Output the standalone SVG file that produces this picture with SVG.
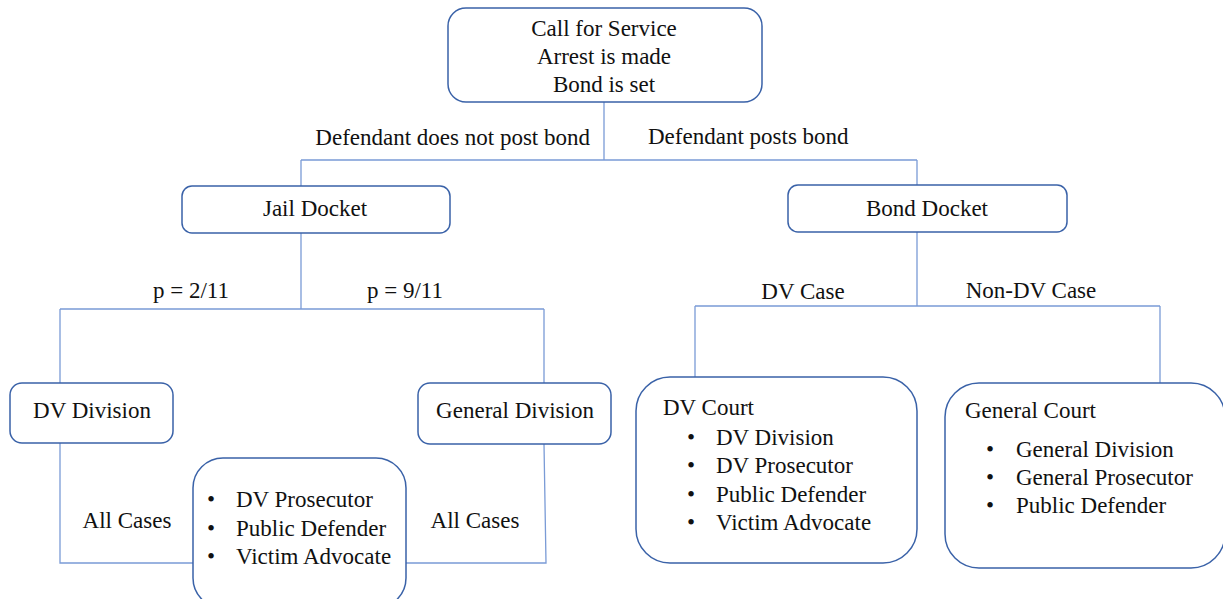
<svg xmlns="http://www.w3.org/2000/svg" width="1223" height="599" viewBox="0 0 1223 599">
<style>
  .box { fill: #ffffff; stroke: #3A62A8; stroke-width: 1.5; }
  .conn { fill: none; stroke: #7A9BD6; stroke-width: 1.3; }
  text { font-family: 'Liberation Serif', serif; font-size: 23px; fill: #111111; }
  .c { text-anchor: middle; }
</style>
<rect width="1223" height="599" fill="#ffffff"/>
<g id="connectors">
  <path class="conn" d="M604,102 V160 M301,160 H917 M301,160 V186 M917,160 V185"/>
  <path class="conn" d="M301,233 V309 M60,309 H544 M60,309 V383 M544,309 V383"/>
  <path class="conn" d="M60,443 V563 H193 M544,444 L546,563 H406"/>
  <path class="conn" d="M917,232 V306 M695,306 H1160 M695,306 V377 M1160,306 V383"/>
</g>
<g id="labels">
  <text x="590" y="145" text-anchor="end">Defendant does not post bond</text>
  <text x="648" y="144">Defendant posts bond</text>
  <text x="191" y="298" class="c">p = 2/11</text>
  <text x="405" y="298" class="c">p = 9/11</text>
  <text x="127" y="528" class="c">All Cases</text>
  <text x="475" y="528" class="c">All Cases</text>
  <text x="803" y="299" class="c">DV Case</text>
  <text x="1031" y="298" class="c">Non-DV Case</text>
</g>
<g id="start">
  <rect class="box" x="448" y="8" width="314" height="94" rx="18"/>
  <text x="604" y="36" class="c">Call for Service</text>
  <text x="604" y="64" class="c">Arrest is made</text>
  <text x="604" y="92" class="c">Bond is set</text>
</g>
<g id="jail-docket">
  <rect class="box" x="182" y="186" width="268" height="47" rx="10"/>
  <text x="315" y="216" class="c">Jail Docket</text>
</g>
<g id="bond-docket">
  <rect class="box" x="788" y="185" width="279" height="47" rx="10"/>
  <text x="927" y="216" class="c">Bond Docket</text>
</g>
<g id="dv-division">
  <rect class="box" x="10" y="383" width="163" height="60" rx="12"/>
  <text x="92" y="418" class="c">DV Division</text>
</g>
<g id="general-division">
  <rect class="box" x="418" y="383" width="193" height="61" rx="12"/>
  <text x="515" y="418" class="c">General Division</text>
</g>
<g id="jail-staff">
  <rect class="box" x="193" y="458" width="213" height="150" rx="30"/>
  <text x="207" y="507">•</text><text x="236" y="507">DV Prosecutor</text>
  <text x="207" y="536">•</text><text x="236" y="536">Public Defender</text>
  <text x="207" y="564">•</text><text x="236" y="564">Victim Advocate</text>
</g>
<g id="dv-court">
  <rect class="box" x="636" y="377" width="281" height="186" rx="34"/>
  <text x="663" y="415">DV Court</text>
  <text x="687" y="445">•</text><text x="716" y="445">DV Division</text>
  <text x="687" y="473">•</text><text x="716" y="473">DV Prosecutor</text>
  <text x="687" y="502">•</text><text x="716" y="502">Public Defender</text>
  <text x="687" y="530">•</text><text x="716" y="530">Victim Advocate</text>
</g>
<g id="general-court">
  <rect class="box" x="945" y="383" width="280" height="185" rx="34"/>
  <text x="965" y="418">General Court</text>
  <text x="986" y="457">•</text><text x="1016" y="457">General Division</text>
  <text x="986" y="485">•</text><text x="1016" y="485">General Prosecutor</text>
  <text x="986" y="513">•</text><text x="1016" y="513">Public Defender</text>
</g>
</svg>
